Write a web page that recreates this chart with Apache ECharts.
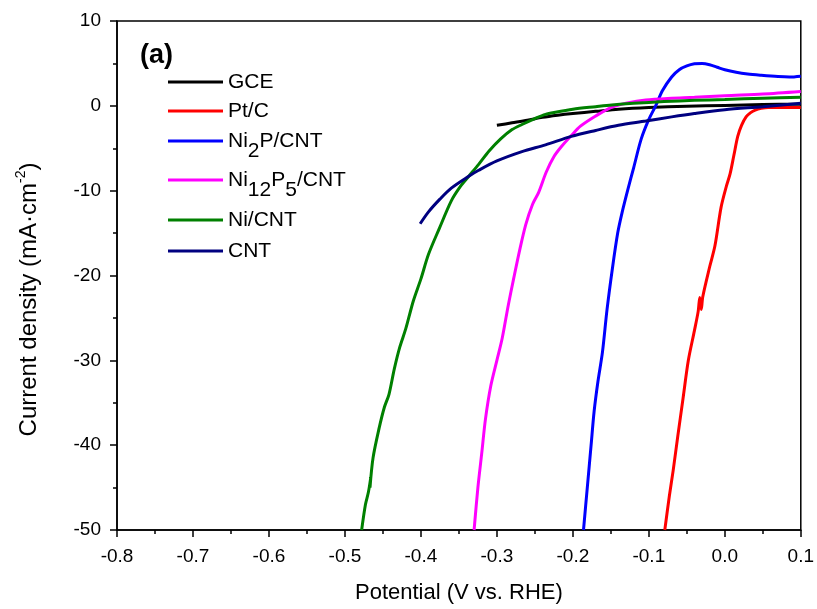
<!DOCTYPE html>
<html>
<head>
<meta charset="utf-8">
<script src="https://cdn.jsdelivr.net/npm/echarts@6/dist/echarts.min.js"></script>
<style>html,body{margin:0;padding:0;background:#fff;}#c{width:817px;height:609px;}</style>
</head>
<body>
<div id="c"></div>
<script>
// Data (Potential V vs RHE, current density mA/cm2)
const seriesNames = ['GCE', 'Pt/C', 'Ni2P/CNT', 'Ni12P5/CNT', 'Ni/CNT', 'CNT'];
const xTicks = [-0.8, -0.7, -0.6, -0.5, -0.4, -0.3, -0.2, -0.1, 0.0, 0.1];
const yTicks = [-50, -40, -30, -20, -10, 0, 10];

const gce = [[-0.30,-2.3],[-0.28,-2.0],[-0.26,-1.7],[-0.24,-1.35],[-0.22,-1.1],[-0.20,-0.9],[-0.17,-0.65],[-0.14,-0.4],[-0.10,-0.2],[-0.05,-0.05],[0.0,0.05],[0.05,0.15],[0.10,0.2]];
const ptc = [[-0.079,-50],[-0.073,-46],[-0.068,-43],[-0.062,-39],[-0.055,-34.5],[-0.048,-30],[-0.040,-26.5],[-0.035,-24.2],[-0.033,-22.6],[-0.031,-24.0],[-0.029,-22.5],[-0.020,-19],[-0.013,-16.5],[-0.005,-12],[0.002,-9.5],[0.007,-8],[0.012,-5.8],[0.017,-3.6],[0.022,-2.3],[0.028,-1.3],[0.034,-0.8],[0.040,-0.5],[0.048,-0.3],[0.057,-0.2],[0.07,-0.2],[0.10,-0.2]];
const ni2p = [[-0.186,-50],[-0.181,-45],[-0.176,-40],[-0.172,-36],[-0.167,-32.5],[-0.161,-29],[-0.155,-24],[-0.148,-19.2],[-0.141,-15],[-0.135,-12.5],[-0.128,-10],[-0.120,-7.3],[-0.110,-3.9],[-0.100,-1.6],[-0.091,0],[-0.082,1.8],[-0.070,3.4],[-0.060,4.25],[-0.050,4.7],[-0.040,4.95],[-0.030,5.0],[-0.020,4.85],[-0.010,4.55],[0.000,4.25],[0.015,3.95],[0.030,3.75],[0.048,3.6],[0.070,3.45],[0.085,3.4],[0.10,3.5]];
const ni12p5 = [[-0.330,-50],[-0.325,-45],[-0.320,-41],[-0.315,-36.9],[-0.308,-33],[-0.300,-30],[-0.293,-27.4],[-0.285,-23.5],[-0.278,-20.4],[-0.270,-17],[-0.262,-14],[-0.253,-11.6],[-0.245,-10.2],[-0.235,-7.8],[-0.225,-6],[-0.215,-4.8],[-0.202,-3.5],[-0.190,-2.4],[-0.170,-1.2],[-0.150,-0.2],[-0.130,0.3],[-0.104,0.7],[-0.070,0.9],[-0.040,1.0],[0.0,1.2],[0.05,1.4],[0.10,1.7]];
const nicnt = [[-0.478,-50],[-0.473,-47],[-0.469,-45.5],[-0.466,-43.8],[-0.467,-45],[-0.463,-41.5],[-0.455,-38],[-0.448,-35.5],[-0.442,-34],[-0.435,-31],[-0.428,-28.5],[-0.420,-26.3],[-0.410,-23],[-0.400,-20.4],[-0.390,-17.5],[-0.376,-14.5],[-0.360,-11.2],[-0.348,-9.5],[-0.337,-8.3],[-0.324,-6.9],[-0.310,-5.3],[-0.295,-3.9],[-0.280,-2.8],[-0.267,-2.2],[-0.250,-1.5],[-0.236,-1.0],[-0.223,-0.75],[-0.200,-0.4],[-0.170,-0.1],[-0.149,0.1],[-0.120,0.3],[-0.080,0.5],[-0.040,0.65],[0.0,0.75],[0.05,0.9],[0.10,1.0]];
const cnt = [[-0.401,-13.9],[-0.390,-12.5],[-0.375,-11],[-0.360,-9.7],[-0.337,-8.3],[-0.324,-7.6],[-0.300,-6.5],[-0.267,-5.4],[-0.236,-4.6],[-0.202,-3.6],[-0.170,-2.9],[-0.140,-2.3],[-0.104,-1.8],[-0.070,-1.3],[-0.040,-0.9],[0.0,-0.45],[0.05,-0.1],[0.10,0.3]];

const seriesData = [gce, ptc, ni2p, ni12p5, nicnt, cnt];
const colors = ['#000000', '#ff0000', '#0000ff', '#ff00ff', '#008000', '#000080'];
const legendCenters = [82, 111, 141, 180, 220, 251];

const FONT = 'Liberation Sans, Arial, sans-serif';
const chart = echarts.init(document.getElementById('c'), null, {renderer: 'canvas'});

const LH = 42;
const legendRich = {
  n: {fontSize: 21, fontFamily: FONT, color: '#000', verticalAlign: 'middle', lineHeight: LH},
  s: {fontSize: 21, fontFamily: FONT, color: '#000', verticalAlign: 'middle', lineHeight: 21, padding: [21, 0, 0, 0]}
};
function legendLabel(name) {
  if (name === 'Ni2P/CNT') return '{n|Ni}{s|2}{n|P/CNT}';
  if (name === 'Ni12P5/CNT') return '{n|Ni}{s|12}{n|P}{s|5}{n|/CNT}';
  return '{n|' + name + '}';
}

const legends = seriesNames.map((nm, i) => ({
  data: [nm],
  left: 168,
  top: legendCenters[i] - LH / 2,
  icon: 'rect',
  itemWidth: 55,
  itemHeight: 3,
  itemGap: 0,
  padding: 0,
  orient: 'vertical',
  formatter: legendLabel,
  textStyle: {rich: legendRich, fontSize: 21, fontFamily: FONT, color: '#000', lineHeight: LH}
}));

chart.setOption({
  animation: false,
  backgroundColor: '#fff',
  title: {text: '(a)', left: 135, top: 37, textStyle: {fontSize: 27, fontWeight: 'bold', fontFamily: FONT, color: '#000'}},
  legend: legends,
  grid: {left: 117, right: 14, top: 21, bottom: 77, show: true, borderColor: '#000', borderWidth: 1.5, containLabel: false},
  xAxis: {
    type: 'value', min: xTicks[0], max: xTicks[xTicks.length - 1], interval: 0.1,
    name: 'Potential (V vs. RHE)', nameLocation: 'middle', nameGap: 52,
    nameTextStyle: {fontSize: 22, fontFamily: FONT, color: '#000'},
    axisLine: {show: true, onZero: false, lineStyle: {color: '#000', width: 1.5}},
    axisTick: {show: true, inside: false, length: 7, lineStyle: {color: '#000', width: 1.5}},
    minorTick: {show: true, splitNumber: 2, length: 4, lineStyle: {color: '#000', width: 1.5}},
    axisLabel: {fontSize: 19, fontFamily: FONT, color: '#000', margin: 17, formatter: v => v.toFixed(1)},
    splitLine: {show: false}
  },
  yAxis: {
    type: 'value', min: yTicks[0], max: yTicks[yTicks.length - 1], interval: 10,
    name: 'Current density (mA·cm{sup|-2})', nameLocation: 'middle', nameGap: 73,
    nameTextStyle: {fontSize: 24, fontFamily: FONT, color: '#000', padding: [0, 48, 0, 0],
      rich: {sup: {fontSize: 14, fontFamily: FONT, color: '#000', padding: [0, 0, 16, 0]}}},
    axisLine: {show: true, onZero: false, lineStyle: {color: '#000', width: 1.5}},
    axisTick: {show: true, inside: false, length: 7, lineStyle: {color: '#000', width: 1.5}},
    minorTick: {show: true, splitNumber: 2, length: 4, lineStyle: {color: '#000', width: 1.5}},
    axisLabel: {fontSize: 19, fontFamily: FONT, color: '#000', margin: 16},
    splitLine: {show: false}
  },
  series: seriesNames.map((nm, i) => ({
    name: nm, type: 'line', data: seriesData[i], symbol: 'none', smooth: 0.3,
    lineStyle: {color: colors[i], width: 3}, itemStyle: {color: colors[i]},
    z: 2 + i
  }))
});
</script>
</body>
</html>
